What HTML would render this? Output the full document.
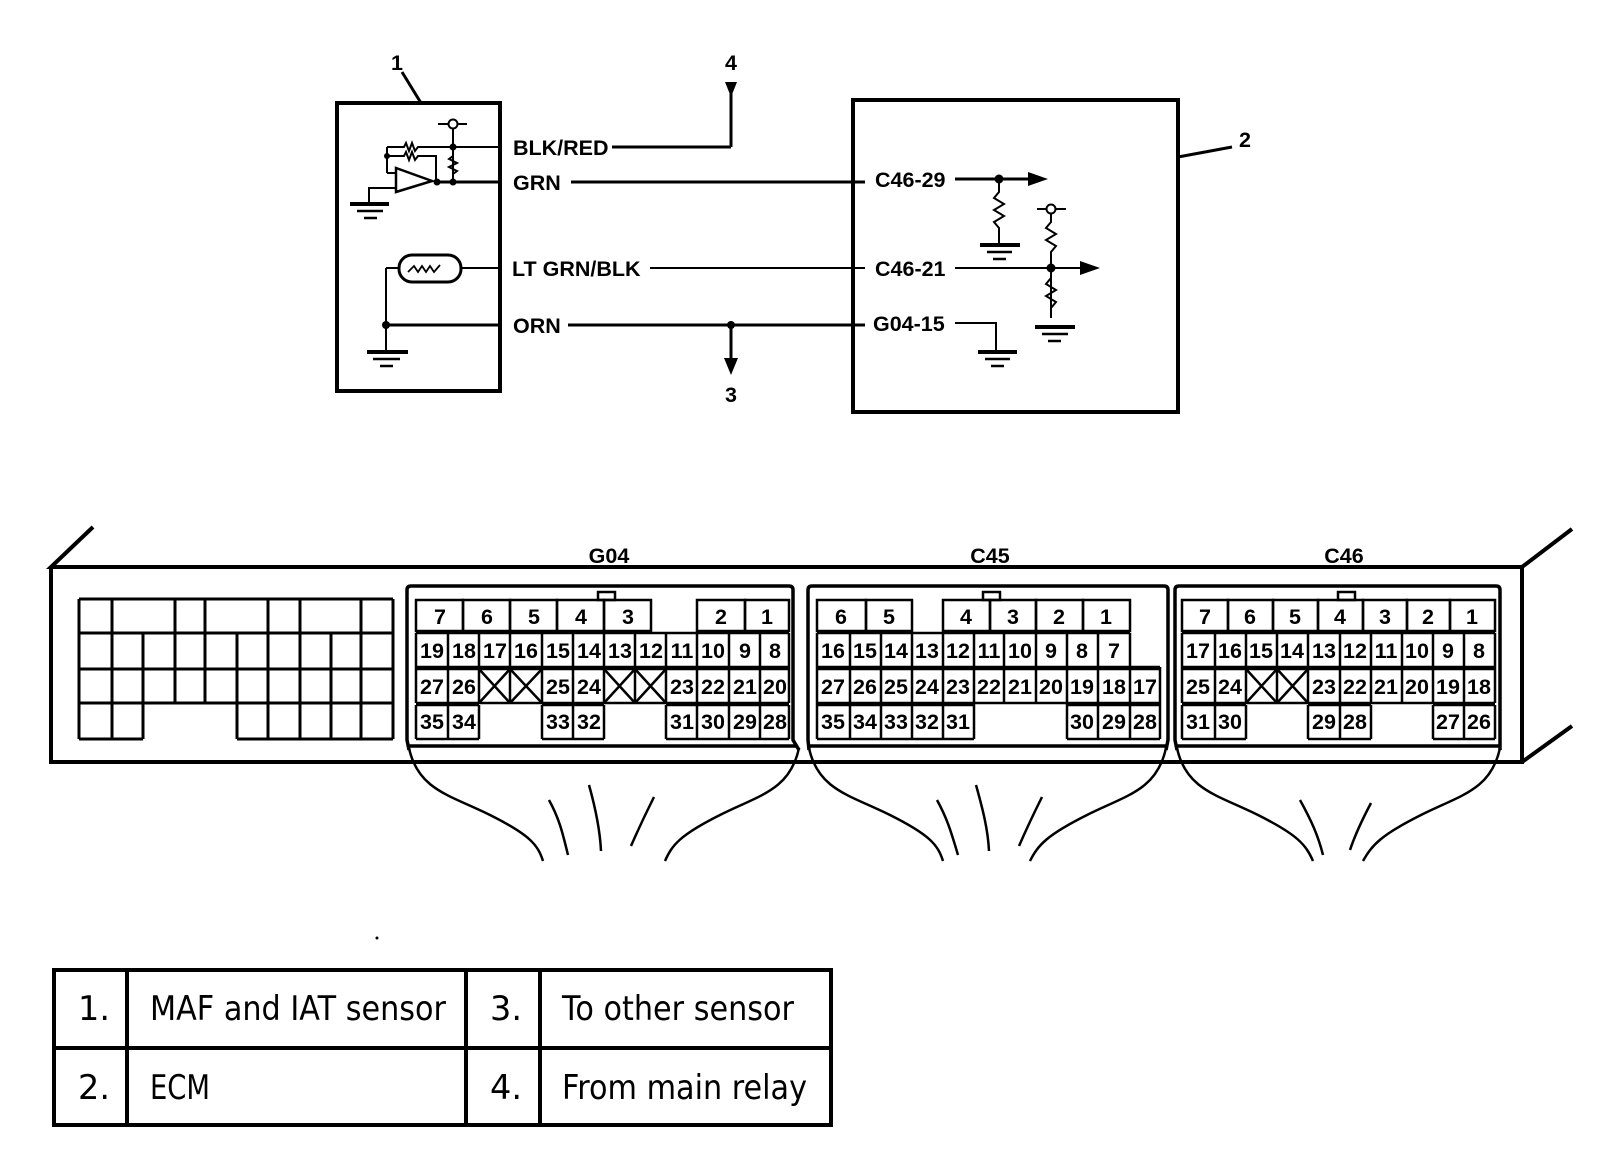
<!DOCTYPE html>
<html><head><meta charset="utf-8"><style>
html,body{margin:0;padding:0;background:#fff;}
svg{display:block;}
.l{font-family:"Liberation Sans",sans-serif;font-weight:bold;font-size:21.5px;fill:#000;}
.n{font-family:"Liberation Sans",sans-serif;font-weight:bold;font-size:21.5px;fill:#000;text-anchor:middle;}
.t{font-family:"DejaVu Sans","Liberation Sans",sans-serif;font-size:34px;fill:#000;}
</style></head><body>
<svg width="1600" height="1162" viewBox="0 0 1600 1162" xmlns="http://www.w3.org/2000/svg">
<g stroke="#000" fill="none" stroke-width="3">
<rect x="337" y="103" width="163" height="288" stroke-width="4"/>
<line x1="402" y1="72" x2="421" y2="103"/>
<rect x="853" y="100" width="325" height="312" stroke-width="4"/>
<line x1="1178" y1="157" x2="1232" y2="147"/>
<line x1="612" y1="147" x2="731" y2="147"/>
<line x1="731" y1="147" x2="731" y2="92"/>
<line x1="571" y1="182" x2="865" y2="182"/>
<line x1="650" y1="268" x2="865" y2="268" stroke-width="2"/>
<line x1="568" y1="325" x2="865" y2="325"/>
<line x1="731" y1="325" x2="731" y2="360"/>
<line x1="438" y1="124" x2="467" y2="124" stroke-width="2"/>
<line x1="453" y1="128" x2="453" y2="182" stroke-width="2"/>
<line x1="453" y1="147" x2="500" y2="147" stroke-width="2"/>
<line x1="437" y1="182" x2="500" y2="182"/>
<polyline points="387,147 404,147 406,143 409,151 412,143 415,151 418,147 453,147" stroke-width="2"/>
<polyline points="387,156 404,156 406,152 409,160 412,152 415,160 418,156 436,156 436,182" stroke-width="2"/>
<line x1="387" y1="147" x2="387" y2="173" stroke-width="2"/>
<line x1="387" y1="173" x2="396" y2="173" stroke-width="2"/>
<polyline points="453,156 449,159 457,163 449,167 457,171 453,174" stroke-width="2"/>
<polygon points="396,168 396,192 432,181" stroke-width="2.5"/>
<polyline points="396,188 369,188 369,203" stroke-width="2"/>
<rect x="399" y="255" width="62" height="27" rx="13" stroke-width="3"/>
<line x1="386" y1="268" x2="399" y2="268" stroke-width="2"/>
<line x1="461" y1="268" x2="500" y2="268" stroke-width="2"/>
<polyline points="408,272 414,266 418,272 422,266 426,272 430,266 434,272 440,265" stroke-width="1.8"/>
<line x1="386" y1="268" x2="386" y2="352" stroke-width="2"/>
<line x1="386" y1="325" x2="500" y2="325"/>
<line x1="955" y1="179" x2="1030" y2="179"/>
<polyline points="999,179 999,192 994,198 1004,204 994,210 1004,216 994,222 999,228 999,243" stroke-width="2"/>
<line x1="955" y1="268" x2="1080" y2="268" stroke-width="2"/>
<line x1="1037" y1="209" x2="1066" y2="209" stroke-width="2"/>
<polyline points="1051,213 1051,222 1046,228 1056,234 1046,240 1056,246 1051,252 1051,318" stroke-width="2"/>
<polyline points="1051,278 1046,284 1056,290 1046,296 1056,302 1051,308" stroke-width="2"/>
<polyline points="955,323 996,323 996,352" stroke-width="2"/>
</g>
<g stroke="#000" stroke-width="4">
<line x1="350" y1="204" x2="389" y2="204"/><line x1="357" y1="211" x2="383" y2="211" stroke-width="2.5"/><line x1="364" y1="218" x2="377" y2="218" stroke-width="2.5"/>
<line x1="367" y1="352" x2="408" y2="352"/><line x1="373" y1="359" x2="400" y2="359" stroke-width="2.5"/><line x1="380" y1="366" x2="393" y2="366" stroke-width="2.5"/>
<line x1="980" y1="245" x2="1020" y2="245"/><line x1="987" y1="252" x2="1012" y2="252" stroke-width="2.5"/><line x1="993" y1="259" x2="1006" y2="259" stroke-width="2.5"/>
<line x1="1035" y1="327" x2="1075" y2="327"/><line x1="1042" y1="334" x2="1068" y2="334" stroke-width="2.5"/><line x1="1048" y1="341" x2="1061" y2="341" stroke-width="2.5"/>
<line x1="978" y1="352" x2="1017" y2="352"/><line x1="985" y1="359" x2="1010" y2="359" stroke-width="2.5"/><line x1="991" y1="366" x2="1004" y2="366" stroke-width="2.5"/>
</g>
<g fill="#000">
<circle cx="453" cy="147" r="3.5"/><circle cx="453" cy="182" r="3.5"/><circle cx="437" cy="182" r="3.5"/><circle cx="387" cy="156" r="3"/>
<circle cx="386" cy="325" r="4"/><circle cx="731" cy="325" r="4"/>
<circle cx="999" cy="179" r="4.5"/><circle cx="1051" cy="268" r="4.5"/>
<polygon points="725,82 737,82 731,97"/>
<polygon points="724,358 738,358 731,375"/>
<polygon points="1028,172 1028,186 1048,179"/>
<polygon points="1080,261 1080,275 1100,268"/>
</g>
<g fill="#fff" stroke="#000" stroke-width="2"><circle cx="453" cy="124" r="4.5"/><circle cx="1051" cy="209" r="4.5"/></g>
<text class="n" x="397" y="70">1</text>
<text class="n" x="731" y="70">4</text>
<text class="n" x="731" y="402">3</text>
<text class="n" x="1245" y="147">2</text>
<text class="l" x="513" y="155">BLK/RED</text>
<text class="l" x="513" y="190">GRN</text>
<text class="l" x="512" y="276">LT GRN/BLK</text>
<text class="l" x="513" y="333">ORN</text>
<text class="l" x="875" y="187">C46-29</text>
<text class="l" x="875" y="276">C46-21</text>
<text class="l" x="873" y="331">G04-15</text>

<g stroke="#000" fill="none" stroke-width="4">
<polyline points="93,527 51,567 1522,567 1572,529"/>
<polyline points="51,567 51,762 1522,762 1522,567"/>
<line x1="1522" y1="762" x2="1572" y2="726"/>
</g>
<g stroke="#000" stroke-width="3" fill="none">
<line x1="79" y1="599" x2="393" y2="599"/>
<line x1="79" y1="633" x2="393" y2="633"/>
<line x1="79" y1="669" x2="393" y2="669"/>
<line x1="79" y1="703" x2="393" y2="703"/>
<line x1="79" y1="739" x2="143" y2="739"/>
<line x1="237" y1="739" x2="393" y2="739"/>
<line x1="79" y1="599" x2="79" y2="739"/><line x1="112" y1="599" x2="112" y2="739"/>
<line x1="143" y1="633" x2="143" y2="739"/>
<line x1="175" y1="599" x2="175" y2="703"/><line x1="205" y1="599" x2="205" y2="703"/>
<line x1="237" y1="633" x2="237" y2="739"/>
<line x1="268" y1="599" x2="268" y2="739"/><line x1="300" y1="599" x2="300" y2="739"/>
<line x1="331" y1="633" x2="331" y2="739"/><line x1="361" y1="599" x2="361" y2="739"/><line x1="393" y1="599" x2="393" y2="739"/>
</g>
<g stroke="#000" fill="none" stroke-width="3.5">
<path d="M409,750 L407,740 L407,590 Q407,586 411,586 L789,586 Q793,586 793,590 L793,740 L799,750"/>
<line x1="409" y1="746" x2="797" y2="746"/>
<path d="M809,750 L808,740 L808,590 Q808,586 812,586 L1164,586 Q1168,586 1168,590 L1168,740 L1166,750"/>
<line x1="808" y1="746" x2="1168" y2="746"/>
<path d="M1177,750 L1175,740 L1175,590 Q1175,586 1179,586 L1496,586 Q1500,586 1500,590 L1500,740 L1500,750"/>
<line x1="1175" y1="746" x2="1500" y2="746"/>
<rect x="598" y="592" width="17" height="8" stroke-width="2.5"/>
<rect x="983" y="592" width="17" height="8" stroke-width="2.5"/>
<rect x="1338" y="592" width="17" height="8" stroke-width="2.5"/>
</g>
<g stroke="#000" fill="none" stroke-width="2.5">
<path d="M409,748 C418,790 450,795 490,815 C530,835 538,845 543,861"/>
<path d="M799,748 C790,790 760,795 720,815 C680,835 672,845 665,861"/>
<path d="M549,800 C560,820 563,835 568,855"/><path d="M589,785 C596,810 600,830 601,851"/><path d="M654,797 C645,815 638,830 631,846"/>
<path d="M809,748 C818,790 850,795 890,815 C930,835 938,845 943,861"/>
<path d="M1166,748 C1157,790 1127,795 1087,815 C1047,835 1038,845 1030,861"/>
<path d="M937,800 C948,820 952,835 958,855"/><path d="M976,785 C983,810 988,830 989,851"/><path d="M1042,797 C1033,815 1026,830 1019,846"/>
<path d="M1177,748 C1186,790 1218,795 1258,815 C1298,835 1306,845 1313,861"/>
<path d="M1500,748 C1491,790 1461,795 1421,815 C1381,835 1372,845 1363,861"/>
<path d="M1300,800 C1311,820 1318,835 1323,855"/><path d="M1371,803 C1362,820 1355,835 1350,850"/>
</g>
<text class="n" x="609" y="563">G04</text>
<text class="n" x="990" y="563">C45</text>
<text class="n" x="1344" y="563">C46</text>

<g stroke="#000" fill="none" stroke-width="2.5">
<rect x="416" y="600" width="47" height="31"/><rect x="463" y="600" width="47" height="31"/><rect x="510" y="600" width="47" height="31"/><rect x="557" y="600" width="47" height="31"/><rect x="604" y="600" width="47" height="31"/><rect x="697" y="600" width="48" height="31"/><rect x="745" y="600" width="44" height="31"/>
<path d="M416,633H789M416,667H789M416,669H789M416,703H789M416,705H479M542,705H604M666,705H789M416,739H479M542,739H604M666,739H789"/>
<path d="M416,633V703M448,633V703M479,633V703M510,633V703M542,633V703M573,633V703M604,633V703M635,633V703M666,633V703M697,633V703M729,633V703M760,633V703M789,633V703"/>
<path d="M416,705V739M448,705V739M479,705V739M542,705V739M573,705V739M604,705V739M666,705V739M697,705V739M729,705V739M760,705V739M789,705V739"/>
<path d="M479,669L510,703M510,669L479,703M510,669L542,703M542,669L510,703M604,669L635,703M635,669L604,703M635,669L666,703M666,669L635,703"/>
<rect x="817" y="600" width="49" height="31"/><rect x="866" y="600" width="46" height="31"/><rect x="943" y="600" width="47" height="31"/><rect x="990" y="600" width="46" height="31"/><rect x="1036" y="600" width="47" height="31"/><rect x="1083" y="600" width="47" height="31"/>
<path d="M817,633H1130M817,667H1160M817,669H1160M817,703H1160M817,705H974M1067,705H1160M817,739H974M1067,739H1160"/>
<path d="M817,633V739M850,633V739M881,633V739M912,633V739M943,633V739M974,633V739M1004,633V703M1036,633V703M1067,633V739M1098,633V739M1130,633V739M1160,667V739"/>
<rect x="1182" y="600" width="46" height="31"/><rect x="1228" y="600" width="45" height="31"/><rect x="1273" y="600" width="45" height="31"/><rect x="1318" y="600" width="45" height="31"/><rect x="1363" y="600" width="44" height="31"/><rect x="1407" y="600" width="43" height="31"/><rect x="1450" y="600" width="45" height="31"/>
<path d="M1182,633H1495M1182,667H1495M1182,669H1495M1182,703H1495M1182,705H1246M1308,705H1371M1433,705H1495M1182,739H1246M1308,739H1371M1433,739H1495"/>
<path d="M1182,633V703M1215,633V703M1246,633V703M1277,633V703M1308,633V703M1340,633V703M1371,633V703M1402,633V703M1433,633V703M1464,633V703M1495,633V703"/>
<path d="M1182,705V739M1215,705V739M1246,705V739M1308,705V739M1340,705V739M1371,705V739M1433,705V739M1464,705V739M1495,705V739"/>
<path d="M1246,669L1277,703M1277,669L1246,703M1277,669L1308,703M1308,669L1277,703"/>
</g>
<g>
<text class="n" x="440" y="624">7</text><text class="n" x="487" y="624">6</text><text class="n" x="534" y="624">5</text><text class="n" x="581" y="624">4</text><text class="n" x="628" y="624">3</text><text class="n" x="721" y="624">2</text><text class="n" x="767" y="624">1</text>
<text class="n" x="432" y="658">19</text><text class="n" x="464" y="658">18</text><text class="n" x="495" y="658">17</text><text class="n" x="526" y="658">16</text><text class="n" x="558" y="658">15</text><text class="n" x="589" y="658">14</text><text class="n" x="620" y="658">13</text><text class="n" x="651" y="658">12</text><text class="n" x="682" y="658">11</text><text class="n" x="713" y="658">10</text><text class="n" x="745" y="658">9</text><text class="n" x="775" y="658">8</text>
<text class="n" x="432" y="694">27</text><text class="n" x="464" y="694">26</text><text class="n" x="558" y="694">25</text><text class="n" x="589" y="694">24</text><text class="n" x="682" y="694">23</text><text class="n" x="713" y="694">22</text><text class="n" x="745" y="694">21</text><text class="n" x="775" y="694">20</text>
<text class="n" x="432" y="729">35</text><text class="n" x="464" y="729">34</text><text class="n" x="558" y="729">33</text><text class="n" x="589" y="729">32</text><text class="n" x="682" y="729">31</text><text class="n" x="713" y="729">30</text><text class="n" x="745" y="729">29</text><text class="n" x="775" y="729">28</text>

<text class="n" x="841" y="624">6</text><text class="n" x="889" y="624">5</text><text class="n" x="966" y="624">4</text><text class="n" x="1013" y="624">3</text><text class="n" x="1059" y="624">2</text><text class="n" x="1106" y="624">1</text>
<text class="n" x="833" y="658">16</text><text class="n" x="865" y="658">15</text><text class="n" x="896" y="658">14</text><text class="n" x="927" y="658">13</text><text class="n" x="958" y="658">12</text><text class="n" x="989" y="658">11</text><text class="n" x="1020" y="658">10</text><text class="n" x="1051" y="658">9</text><text class="n" x="1082" y="658">8</text><text class="n" x="1114" y="658">7</text>
<text class="n" x="833" y="694">27</text><text class="n" x="865" y="694">26</text><text class="n" x="896" y="694">25</text><text class="n" x="927" y="694">24</text><text class="n" x="958" y="694">23</text><text class="n" x="989" y="694">22</text><text class="n" x="1020" y="694">21</text><text class="n" x="1051" y="694">20</text><text class="n" x="1082" y="694">19</text><text class="n" x="1114" y="694">18</text><text class="n" x="1145" y="694">17</text>
<text class="n" x="833" y="729">35</text><text class="n" x="865" y="729">34</text><text class="n" x="896" y="729">33</text><text class="n" x="927" y="729">32</text><text class="n" x="958" y="729">31</text><text class="n" x="1082" y="729">30</text><text class="n" x="1114" y="729">29</text><text class="n" x="1145" y="729">28</text>

<text class="n" x="1205" y="624">7</text><text class="n" x="1250" y="624">6</text><text class="n" x="1295" y="624">5</text><text class="n" x="1340" y="624">4</text><text class="n" x="1385" y="624">3</text><text class="n" x="1428" y="624">2</text><text class="n" x="1472" y="624">1</text>
<text class="n" x="1198" y="658">17</text><text class="n" x="1230" y="658">16</text><text class="n" x="1261" y="658">15</text><text class="n" x="1292" y="658">14</text><text class="n" x="1324" y="658">13</text><text class="n" x="1355" y="658">12</text><text class="n" x="1386" y="658">11</text><text class="n" x="1417" y="658">10</text><text class="n" x="1448" y="658">9</text><text class="n" x="1479" y="658">8</text>
<text class="n" x="1198" y="694">25</text><text class="n" x="1230" y="694">24</text><text class="n" x="1324" y="694">23</text><text class="n" x="1355" y="694">22</text><text class="n" x="1386" y="694">21</text><text class="n" x="1417" y="694">20</text><text class="n" x="1448" y="694">19</text><text class="n" x="1479" y="694">18</text>
<text class="n" x="1198" y="729">31</text><text class="n" x="1230" y="729">30</text><text class="n" x="1324" y="729">29</text><text class="n" x="1355" y="729">28</text><text class="n" x="1448" y="729">27</text><text class="n" x="1479" y="729">26</text>
</g>

<circle cx="377" cy="938" r="1.5" fill="#000"/>
<g stroke="#000" fill="none" stroke-width="4">
<rect x="54" y="970" width="777" height="155"/>
<line x1="54" y1="1048" x2="831" y2="1048"/>
<line x1="127" y1="970" x2="127" y2="1125"/>
<line x1="466" y1="970" x2="466" y2="1125"/>
<line x1="540" y1="970" x2="540" y2="1125"/>
</g>
<text class="t" x="78" y="1020" textLength="32" lengthAdjust="spacingAndGlyphs">1.</text>
<text class="t" x="150" y="1020" textLength="296" lengthAdjust="spacingAndGlyphs">MAF and IAT sensor</text>
<text class="t" x="490" y="1020" textLength="32" lengthAdjust="spacingAndGlyphs">3.</text>
<text class="t" x="562" y="1020" textLength="232" lengthAdjust="spacingAndGlyphs">To other sensor</text>
<text class="t" x="78" y="1099" textLength="32" lengthAdjust="spacingAndGlyphs">2.</text>
<text class="t" x="150" y="1099" textLength="60" lengthAdjust="spacingAndGlyphs">ECM</text>
<text class="t" x="490" y="1099" textLength="32" lengthAdjust="spacingAndGlyphs">4.</text>
<text class="t" x="562" y="1099" textLength="245" lengthAdjust="spacingAndGlyphs">From main relay</text>
</svg>
</body></html>
